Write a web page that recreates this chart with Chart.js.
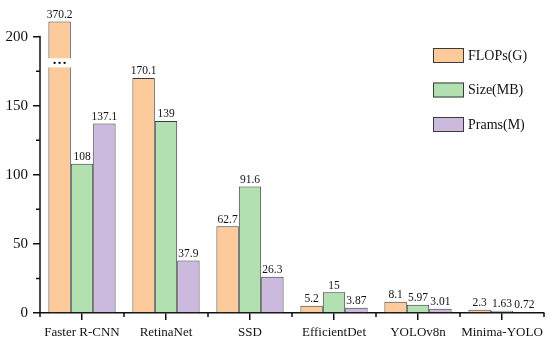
<!DOCTYPE html>
<html>
<head>
<meta charset="utf-8">
<script src="https://cdn.jsdelivr.net/npm/chart.js@4/dist/chart.umd.min.js"></script>
<style>
  html, body { margin: 0; padding: 0; background: #fff; }
  #wrap { width: 550px; height: 343px; }
</style>
</head>
<body>
<div id="wrap"><canvas id="chart" width="550" height="343"></canvas></div>
<script>
const categories = ['Faster R-CNN', 'RetinaNet', 'SSD', 'EfficientDet', 'YOLOv8n', 'Minima-YOLO'];
const flops = [370.2, 170.1, 62.7, 5.2, 8.1, 2.3];
const sizeMB = [108, 139, 91.6, 15, 5.97, 1.63];
const prams = [137.1, 37.9, 26.3, 3.87, 3.01, 0.72];
const seriesNames = ['FLOPs(G)', 'Size(MB)', 'Prams(M)'];
const yTicks = [0, 50, 100, 150, 200];
const yMinorTicks = [25, 75, 125, 175];

// broken axis: tall bars are cut at this value
const breakTop = 211;
const breakAt = 181;

const serif = "'Liberation Serif', 'Times New Roman', serif";
const colors = ['#fdcb9b', '#b2e0b0', '#cbbadd'];
const edge = '#3a3a3a';

const datasets = [flops, sizeMB, prams].map((vals, i) => ({
    label: seriesNames[i],
    data: vals.map(v => Math.min(v, breakTop)),
    raw: vals,
    backgroundColor: colors[i],
    borderColor: edge,
    borderWidth: 1,
    categoryPercentage: 0.8,
    barPercentage: 1,
}));

const extras = {
    id: 'extras',
    afterDatasetsDraw(chart) {
        const ctx = chart.ctx;
        const y = chart.scales.y;
        const area = chart.chartArea;
        ctx.save();

        // value labels
        ctx.font = '11.5px ' + serif;
        ctx.fillStyle = '#111';
        ctx.textAlign = 'center';
        ctx.textBaseline = 'bottom';
        chart.data.datasets.forEach((ds, di) => {
            chart.getDatasetMeta(di).data.forEach((bar, i) => {
                ctx.fillText(String(ds.raw[i]), bar.x, bar.y - 1);
            });
        });

        // break marks on clipped bars
        chart.data.datasets.forEach((ds, di) => {
            chart.getDatasetMeta(di).data.forEach((bar, i) => {
                if (ds.raw[i] <= breakTop) return;
                const yb = y.getPixelForValue(breakAt);
                const w = bar.width + 2;
                ctx.fillStyle = '#fff';
                ctx.fillRect(bar.x - w / 2, yb - 4.5, w, 9);
                ctx.fillStyle = '#111';
                [-5, 0, 5].forEach(dx => {
                    ctx.beginPath();
                    ctx.arc(bar.x + dx, yb, 1.2, 0, Math.PI * 2);
                    ctx.fill();
                });
            });
        });

        // y axis line up to the last tick, plus minor ticks
        ctx.strokeStyle = '#111';
        ctx.lineWidth = 1.5;
        ctx.beginPath();
        ctx.moveTo(area.left, area.bottom);
        ctx.lineTo(area.left, y.getPixelForValue(yTicks[yTicks.length - 1]) - 0.75);
        yMinorTicks.forEach(v => {
            const py = y.getPixelForValue(v);
            ctx.moveTo(area.left, py);
            ctx.lineTo(area.left - 4, py);
        });
        // x minor ticks between categories
        for (let i = 0; i <= categories.length; i++) {
            const px = area.left + (area.right - area.left) * i / categories.length;
            ctx.moveTo(px, area.bottom);
            ctx.lineTo(px, area.bottom + 4);
        }
        ctx.stroke();

        // legend
        ctx.font = '14px ' + serif;
        ctx.textAlign = 'left';
        ctx.textBaseline = 'middle';
        ctx.lineWidth = 1;
        chart.data.datasets.forEach((ds, di) => {
            const top = 48 + di * 34.5;
            ctx.fillStyle = ds.backgroundColor;
            ctx.fillRect(433, top, 31, 15);
            ctx.strokeStyle = edge;
            ctx.strokeRect(433.5, top + 0.5, 30, 14);
            ctx.fillStyle = '#111';
            ctx.fillText(ds.label, 468, top + 8);
        });
        ctx.restore();
    }
};

new Chart(document.getElementById('chart'), {
    type: 'bar',
    data: { labels: categories, datasets },
    plugins: [extras],
    options: {
        responsive: false,
        animation: false,
        layout: { padding: { top: 20, right: 6, left: 0, bottom: 0 } },
        plugins: {
            legend: { display: false },
            tooltip: { enabled: false },
        },
        scales: {
            x: {
                grid: {
                    offset: false,
                    drawOnChartArea: false,
                    drawTicks: true,
                    tickLength: 7,
                    color: '#111',
                    lineWidth: 1.5,
                },
                border: { display: true, color: '#111', width: 1.5 },
                ticks: {
                    color: '#111',
                    padding: 5,
                    maxRotation: 0,
                    autoSkip: false,
                    font: { family: serif, size: 13 },
                },
                afterFit: (scale) => { scale.height = 30; },
            },
            y: {
                min: 0,
                max: 212,
                afterBuildTicks: (scale) => { scale.ticks = yTicks.map(v => ({ value: v })); },
                grid: {
                    drawOnChartArea: false,
                    drawTicks: true,
                    tickLength: 7,
                    color: '#111',
                    lineWidth: 1.5,
                },
                border: { display: false },
                ticks: {
                    color: '#111',
                    padding: 5,
                    font: { family: serif, size: 15 },
                },
                afterFit: (scale) => { scale.width = 40; },
            },
        },
    },
});
</script>
</body>
</html>
